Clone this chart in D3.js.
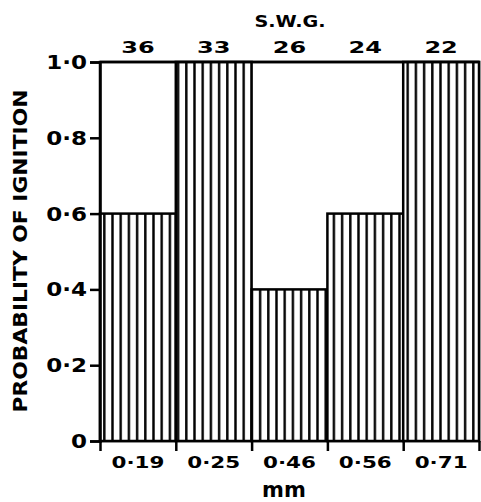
<!DOCTYPE html>
<html><head><meta charset="utf-8">
<script src="https://cdn.jsdelivr.net/npm/d3@7"></script>
<style>body{margin:0;background:#fff}svg{display:block}</style>
</head><body>
<svg id="c" width="481" height="502"></svg>
<script>
const swg = ["36","33","26","24","22"];
const mm = ["0·19","0·25","0·46","0·56","0·71"];
const prob = [0.6, 1.0, 0.4, 0.6, 1.0];
const yTicks = [0, 0.2, 0.4, 0.6, 0.8, 1.0];
const yTitle = "PROBABILITY OF IGNITION";
const xTitle = "mm";
const topTitle = "S.W.G.";

const svg = d3.select("#c");
const L = 100, R = 479, T = 62, B = 441;
const font = "'DejaVu Sans', Verdana, sans-serif";
const x = d3.scaleBand().domain(d3.range(prob.length)).range([L, R]).padding(0);
const y = d3.scaleLinear().domain([0, 1]).range([B, T]);

function styleText(sel, size, k) {
  sel.attr("font-family", font).attr("font-weight", "bold").attr("font-size", size).attr("fill", "#000");
  sel.each(function() {
    const len = this.getComputedTextLength();
    d3.select(this).attr("textLength", len * k).attr("lengthAdjust", "spacingAndGlyphs");
  });
}

const defs = svg.append("defs");
const pat = defs.append("pattern").attr("id","hatch").attr("patternUnits","userSpaceOnUse")
  .attr("width", 8.2).attr("height", 10).attr("x", L + 3);
pat.append("rect").attr("width", 8.2).attr("height", 10).attr("fill", "#fff");
pat.append("line").attr("x1", 1.3).attr("x2", 1.3).attr("y1", 0).attr("y2", 10)
  .attr("stroke", "#000").attr("stroke-width", 2.4);

// frame
svg.append("rect").attr("x", L).attr("y", T).attr("width", R - L).attr("height", B - T)
  .attr("fill", "#fff").attr("stroke", "#000").attr("stroke-width", 2.5);

// bars
svg.append("g").selectAll("rect").data(prob).join("rect")
  .attr("x", (d, i) => x(i)).attr("width", x.bandwidth())
  .attr("y", d => y(d)).attr("height", d => y(0) - y(d))
  .attr("fill", "url(#hatch)").attr("stroke", "#000").attr("stroke-width", 2.5);

svg.append("line").attr("x1", L).attr("x2", R).attr("y1", T).attr("y2", T)
  .attr("stroke", "#000").attr("stroke-width", 2.5);

// y axis
const yAxis = svg.append("g").attr("transform", `translate(${L},0)`)
  .call(d3.axisLeft(y).tickValues(yTicks).tickSize(10).tickPadding(3)
    .tickFormat(d => d === 0 ? "0" : d.toFixed(1).replace(".", "·")));
yAxis.select(".domain").attr("stroke-width", 2.5);
yAxis.selectAll(".tick line").attr("stroke-width", 2.5);
styleText(yAxis.selectAll("text"), 20, 1.15);

// x axis boundary ticks
const xb = d3.scaleLinear().domain([0, prob.length]).range([L, R]);
const xAxis = svg.append("g").attr("transform", `translate(0,${B})`)
  .call(d3.axisBottom(xb).tickValues(d3.range(prob.length + 1)).tickSize(10).tickFormat(""));
xAxis.select(".domain").remove();
xAxis.selectAll(".tick line").attr("stroke-width", 2.5);

// x labels (mm)
const xl = svg.append("g").attr("transform", `translate(0,${B})`)
  .call(d3.axisBottom(x).tickSize(0).tickPadding(0).tickFormat(i => mm[i]));
xl.select(".domain").remove();
xl.selectAll("text").attr("dy", null).attr("y", 27);
styleText(xl.selectAll("text"), 16.5, 1.3);

// top labels (SWG)
const tl = svg.append("g").attr("transform", `translate(0,${T})`)
  .call(d3.axisTop(x).tickSize(0).tickPadding(0).tickFormat(i => swg[i]));
tl.select(".domain").remove();
tl.selectAll("text").attr("dy", null).attr("y", -9);
styleText(tl.selectAll("text"), 15, 1.6);

// titles
styleText(svg.append("text").attr("x", 290).attr("y", 27).attr("text-anchor", "middle").text(topTitle), 16, 1.2);
styleText(svg.append("text").attr("x", 284).attr("y", 497).attr("text-anchor", "middle").text(xTitle), 21, 1.0);
const yt = svg.append("text").attr("transform", "translate(27,251) rotate(-90)").attr("text-anchor", "middle")
  .text(yTitle);
styleText(yt, 20, 1);
yt.attr("textLength", 323);
</script>
</body></html>
